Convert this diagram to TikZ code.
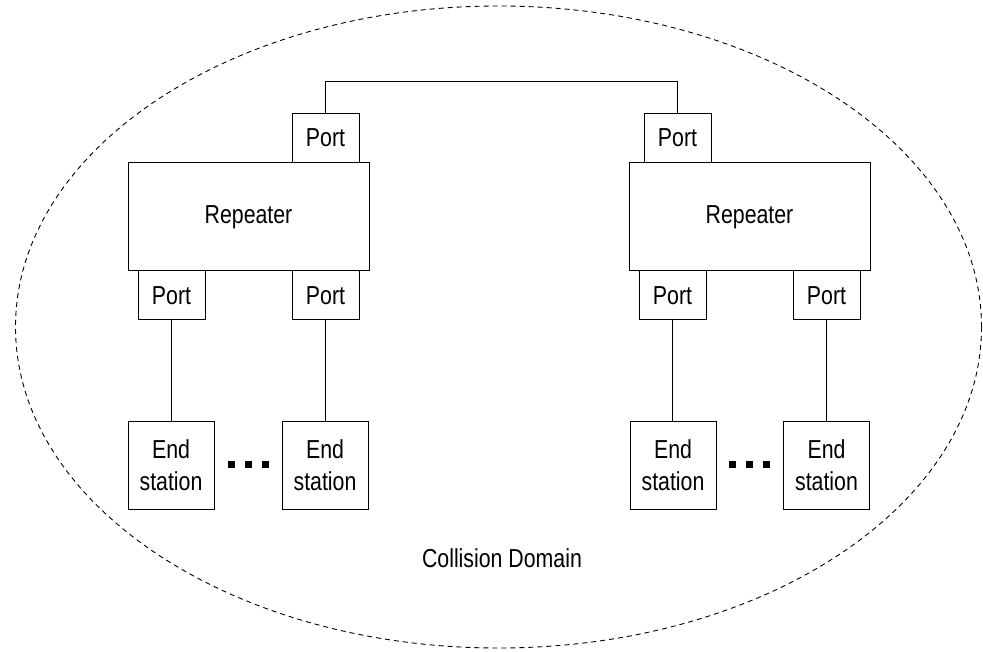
\documentclass[tikz,border=0pt]{standalone}
\usepackage{fontspec}
\setmainfont{Liberation Sans}[FakeStretch=0.82]
\usepackage{tikz}

\tikzset{
  box/.style={draw, line width=1pt, inner sep=0pt, outer sep=0pt, align=center,
    font=\fontsize{26}{32}\selectfont},
  port/.style={box, minimum width=67pt, minimum height=49pt},
  repeater/.style={box, minimum width=241pt, minimum height=108pt},
  station/.style={box, minimum width=86pt, minimum height=88pt},
  dotbox/.style={fill, minimum size=7pt, inner sep=0pt},
}

\begin{document}
\begin{tikzpicture}[x=1pt, y=-1pt]
\useasboundingbox (0,0) rectangle (983,652);

\draw[line width=0.9pt, dash pattern=on 5pt off 4pt] (498.5,327) ellipse [x radius=483, y radius=321];

% repeaters
\node[repeater] (repl) at (248.5,217) {Repeater};
\node[repeater] (repr) at (749.5,217) {Repeater};

% ports
\node[port] (uplinkl) at (325.5,138) {Port};
\node[port] (uplinkr) at (677.5,138) {Port};
\node[port] (pa) at (171.5,295.5) {Port};
\node[port] (pb) at (325.5,295.5) {Port};
\node[port] (pc) at (672.5,295.5) {Port};
\node[port] (pd) at (826.5,295.5) {Port};

% end stations
\node[station] (sa) at (171,465) {End\\station};
\node[station] (sb) at (325,465) {End\\station};
\node[station] (sc) at (673,465) {End\\station};
\node[station] (sd) at (826.5,465) {End\\station};

\foreach \x in {231,248,265,732,749,766}
  \node[dotbox] at (\x,464.5) {};

% links
\draw[line width=1pt] (uplinkl.north) -- ++(0,-32) -| (uplinkr.north);
\foreach \p/\s in {pa/sa, pb/sb, pc/sc, pd/sd}
  \draw[line width=1pt] (\p.south) -- (\p.south |- \s.north);

\node[font=\fontsize{26}{32}\selectfont] (domain) at (502,558) {Collision Domain};
\end{tikzpicture}
\end{document}
